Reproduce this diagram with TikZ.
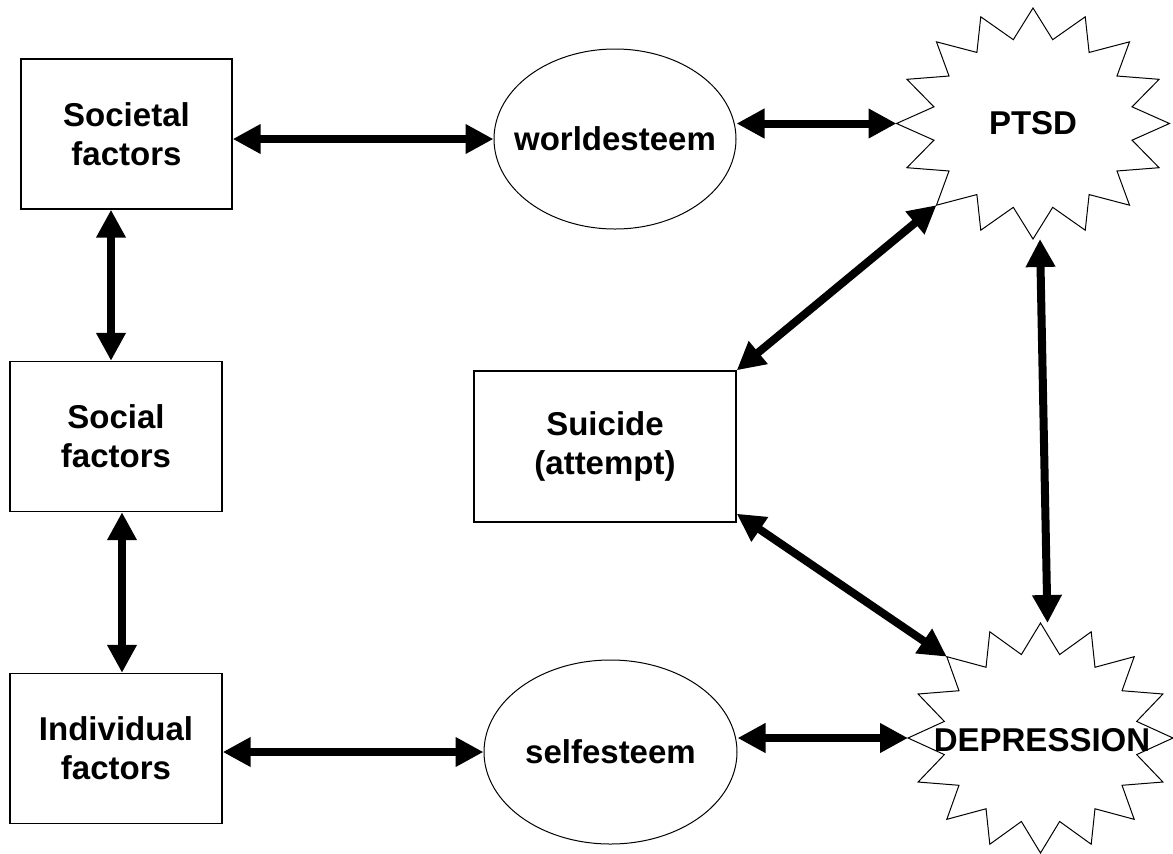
\documentclass[tikz,border=0pt]{standalone}
\usepackage{fontspec}
\setmainfont{Liberation Sans}
\usetikzlibrary{arrows.meta, shapes.geometric}

% spiky outline: name, centre x, centre y, x radius, y radius
\newcommand{\burst}[5]{%
  \draw[line width=0.5pt] plot[samples=33, domain=0:32, variable=\k]
    ({#2+(1-0.26*mod(\k,2))*#4*cos(90+\k*11.25)},
     {#3-(1-0.26*mod(\k,2))*#5*sin(90+\k*11.25)}) -- cycle;
  \coordinate (#1-n) at (#2, {#3-#5});
  \coordinate (#1-s) at (#2, {#3+#5});
  \coordinate (#1-w) at ({#2-#4}, #3);
  \coordinate (#1-nw) at ({#2-0.7071*#4}, {#3-0.7071*#5});
  \coordinate (#1-sw) at ({#2-0.7071*#4}, {#3+0.7071*#5});
}

\begin{document}
\begin{tikzpicture}[x=0.5pt, y=-0.5pt,
    every node/.style={font=\bfseries\fontsize{16.5}{19.5}\selectfont, align=center},
    box/.style={draw, line width=0.7pt, minimum height=75pt, inner sep=0pt},
    blob/.style={draw, ellipse, line width=0.5pt, minimum height=90pt, inner sep=0pt},
    link/.style={{Triangle[length=14pt,width=14pt]}-{Triangle[length=14pt,width=14pt]}, line width=4pt}]
  \useasboundingbox (0,0) rectangle (1173,853);

  % left column
  \node[box, minimum width=105.5pt] (SOCIETAL) at (126.5,134) {Societal\\factors};
  \node[box, minimum width=106pt] (SOCIAL) at (116,436.5) {Social\\factors};
  \node[box, minimum width=106pt] (INDIVIDUAL) at (116,748.5) {Individual\\factors};

  % esteem ellipses
  \node[blob, minimum width=121pt, label={center:worldesteem}] (WORLD) at (615,139) {};
  \node[blob, minimum width=126.5pt, minimum height=92pt, label={center:selfesteem}] (SELF) at (610.5,752) {};

  \node[box, minimum width=131pt, minimum height=75.5pt] (SUICIDE) at (605,446.5) {Suicide\\(attempt)};

  % bursts
  \burst{PTSD}{1033}{123.5}{136.5}{115.5}
  \node (PTSD) at (1033,123.5) {PTSD};
  \burst{DEP}{1040.5}{738}{132.5}{115}
  \node (DEPRESSION) at (1042,740) {DEPRESSION};

  % connectors
  \draw[link] (SOCIETAL.east |- WORLD.west) -- (WORLD.west);
  \draw[link] (WORLD.east |- PTSD-w) -- (PTSD-w);
  \draw[link] ([xshift=-7.75pt]SOCIETAL.south) -- ([xshift=-2.5pt]SOCIAL.north);
  \draw[link] ([xshift=3pt]SOCIAL.south) -- ([xshift=3pt]INDIVIDUAL.north);
  \draw[link] (INDIVIDUAL.east |- SELF.west) -- (SELF.west);
  \draw[link] (SELF.east |- DEP-w) -- (DEP-w);
  \draw[link] (SUICIDE.north east) -- (PTSD-sw);
  \draw[link] ([yshift=4.5pt]SUICIDE.south east) -- (DEP-nw);
  \draw[link] ([xshift=3.5pt]PTSD-s) -- ([xshift=3.5pt]DEP-n);
\end{tikzpicture}
\end{document}
